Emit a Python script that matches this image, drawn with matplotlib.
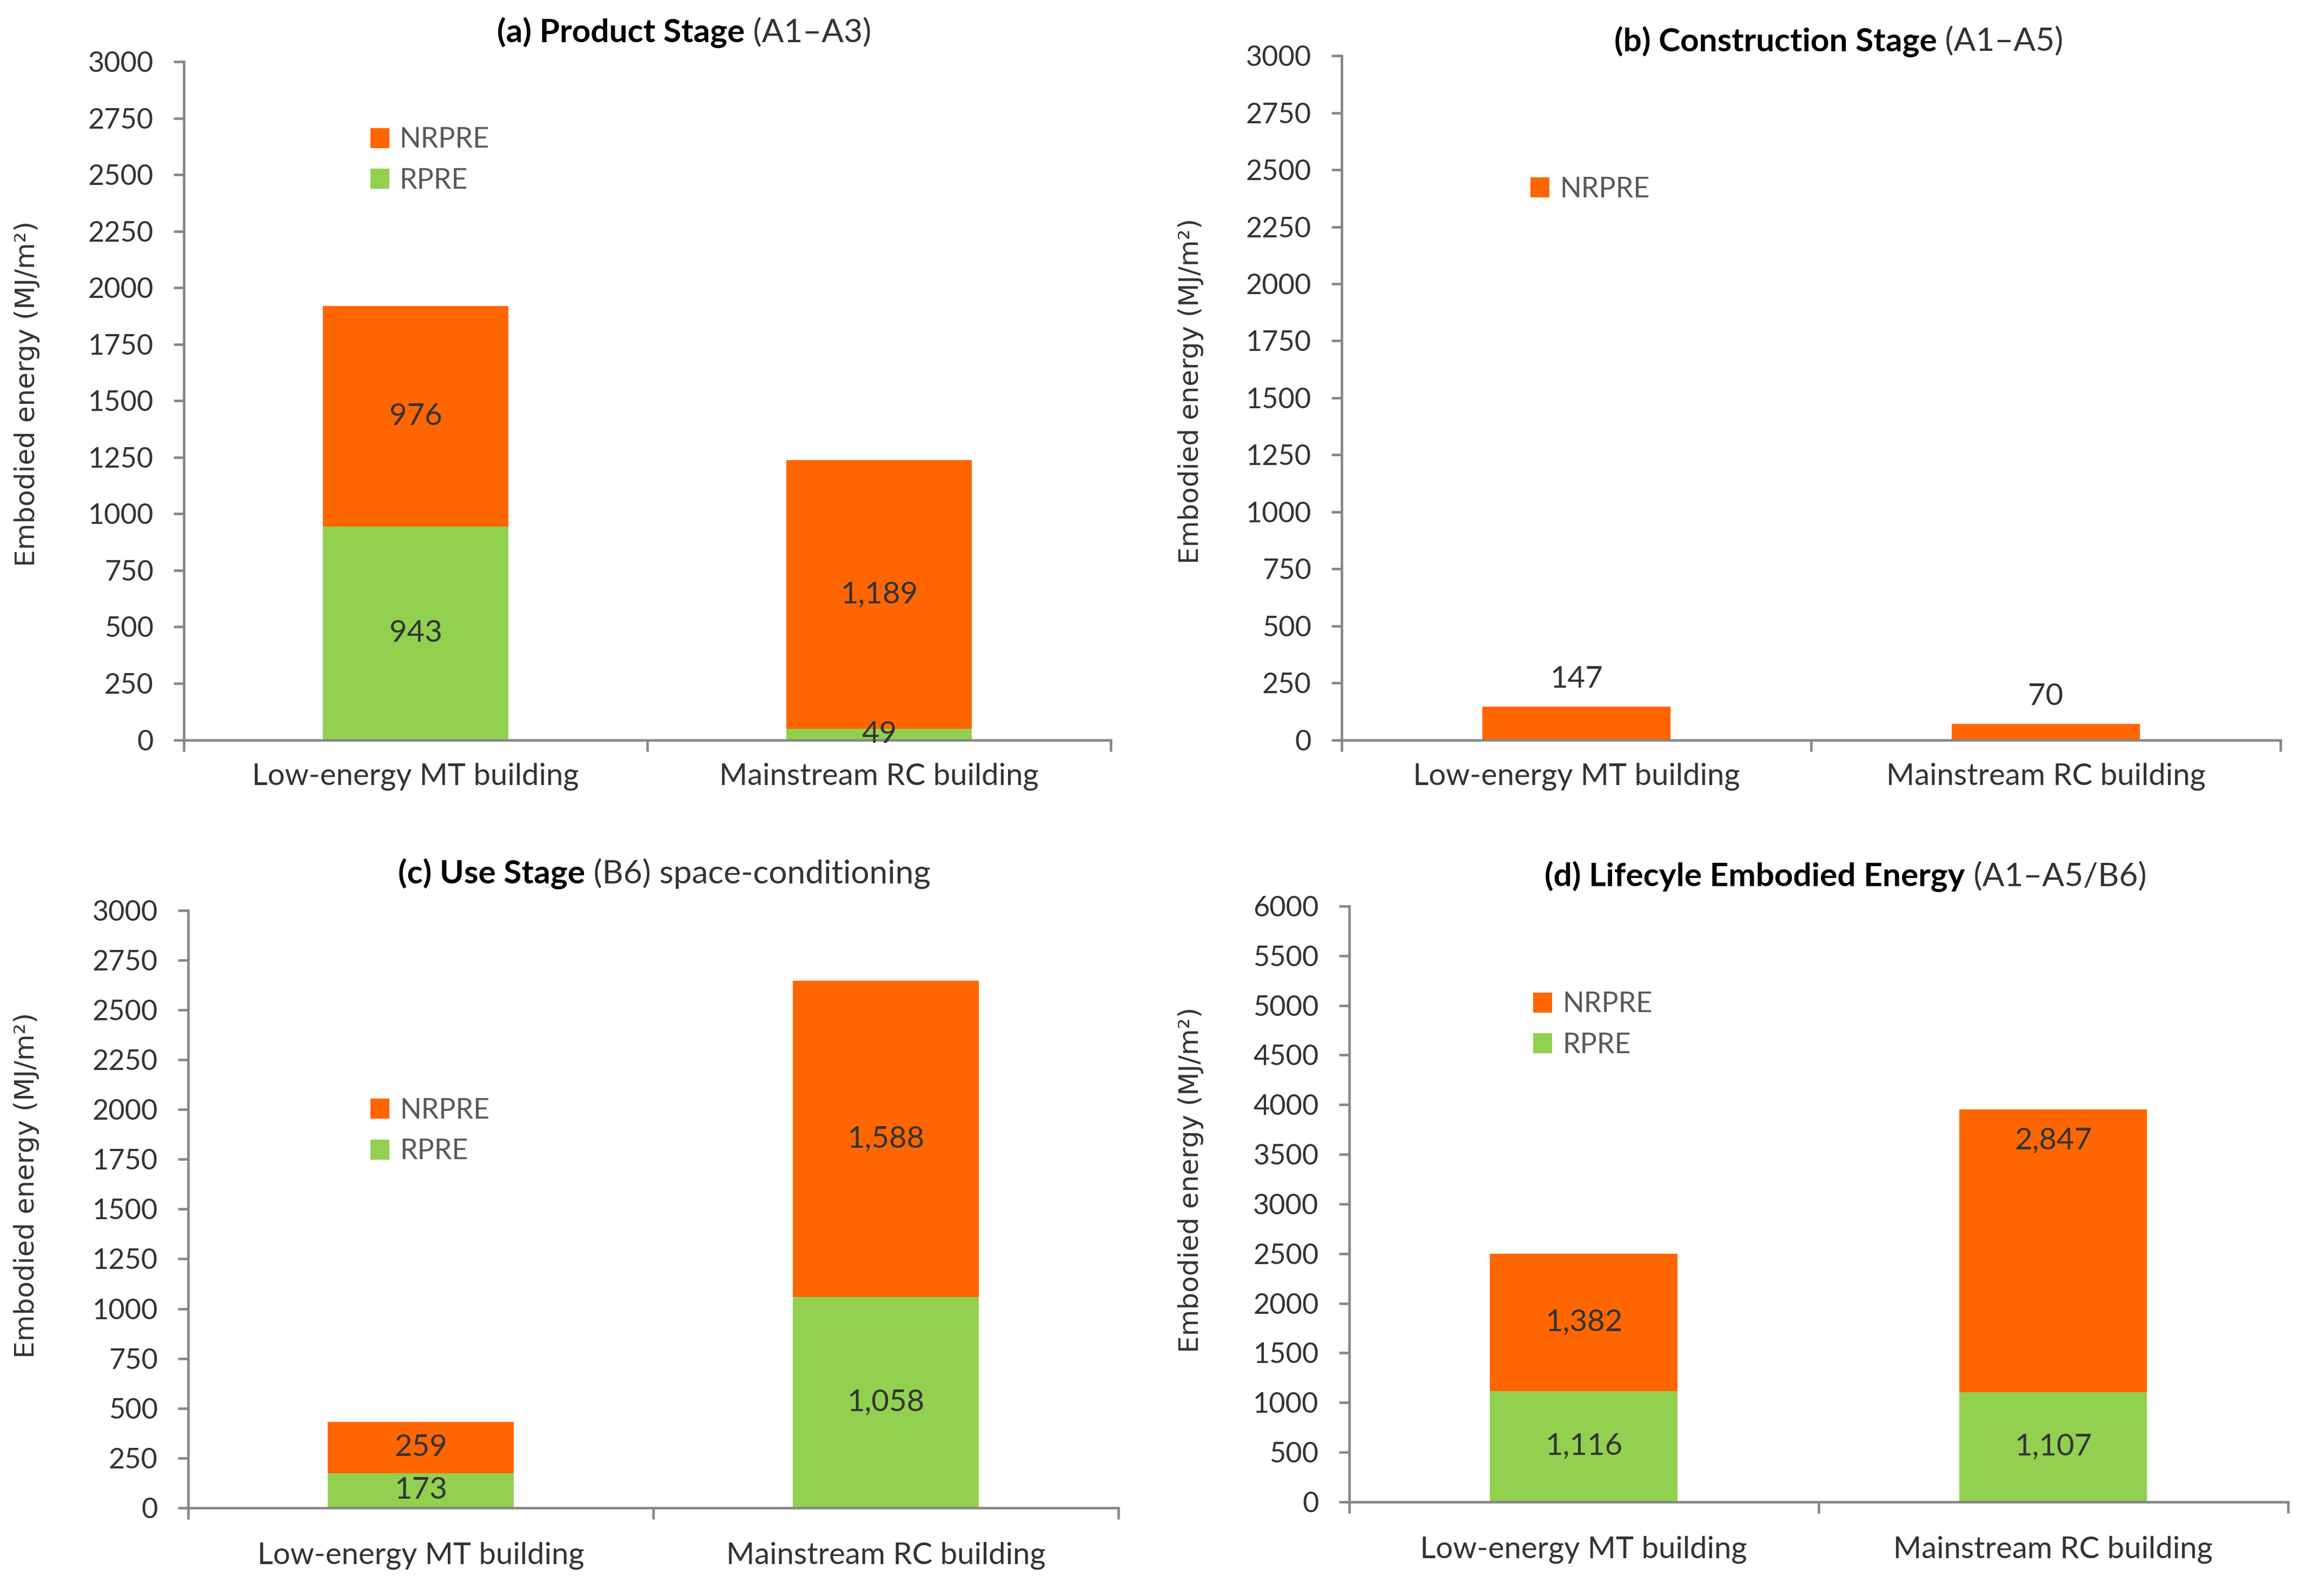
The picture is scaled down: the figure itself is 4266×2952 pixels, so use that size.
import matplotlib
matplotlib.use("Agg")
import matplotlib.pyplot as plt
from matplotlib.patches import Patch
import numpy as np

categories = ["Low-energy MT building", "Mainstream RC building"]
a_rpre = [943, 49]
a_nrpre = [976, 1189]
b_nrpre = [147, 70]
c_rpre = [173, 1058]
c_nrpre = [259, 1588]
d_rpre = [1116, 1107]
d_nrpre = [1382, 2847]

ORANGE = "#FF6600"
GREEN = "#92D050"
TXT = "#333333"
SPINE = "#868686"
FONT = ["Lato", "DejaVu Sans"]

plt.rcParams["font.family"] = FONT

fig = plt.figure(figsize=(4266 / 300, 2952 / 300), dpi=300)

specs = {
    "a": dict(rect=[0.0797, 0.5364, 0.4018, 0.4249], ymax=3000, step=250,
              title=("(a) Product Stage", " (A1\u2013A3)"), tpos=(0.2966, 0.9797),
              leg=(0.19, 0.92), xpad=10, ylc=(-0.155, 0.51), top_label=False),
    "b": dict(rect=[0.5816, 0.5364, 0.4069, 0.4286], ymax=3000, step=250,
              title=("(b) Construction Stage", " (A1\u2013A5)"), tpos=(0.797, 0.974),
              leg=(0.19, 0.84), xpad=10, ylc=(-0.147, 0.51), top_label=False),
    "c": dict(rect=[0.0816, 0.0553, 0.4031, 0.3742], ymax=3000, step=250,
              title=("(c) Use Stage", " (B6) space-conditioning"), tpos=(0.288, 0.4525),
              leg=(0.185, 0.705), xpad=15, ylc=(-0.16, 0.54), top_label=False),
    "d": dict(rect=[0.5848, 0.059, 0.4069, 0.3733], ymax=6000, step=500,
              title=("(d) Lifecyle Embodied Energy", " (A1\u2013A5/B6)"), tpos=(0.800, 0.4507),
              leg=(0.185, 0.875), xpad=15, ylc=(-0.155, 0.54), top_label=True),
}

data = {
    "a": (a_rpre, a_nrpre),
    "b": (None, b_nrpre),
    "c": (c_rpre, c_nrpre),
    "d": (d_rpre, d_nrpre),
}

x = np.arange(len(categories))
width = 0.4
LBL = 13.5

for key, sp in specs.items():
    ax = fig.add_axes(sp["rect"])
    rpre, nrpre = data[key]
    if rpre is not None:
        b1 = ax.bar(x, rpre, width, color=GREEN, label="RPRE")
        b2 = ax.bar(x, nrpre, width, bottom=rpre, color=ORANGE, label="NRPRE")
        ax.bar_label(b1, labels=[f"{v:,.0f}" for v in rpre], label_type="center",
                     color=TXT, fontsize=LBL)
        if sp["top_label"]:
            # second bar's NRPRE label sits near the top of its segment
            labels = [f"{v:,.0f}" for v in nrpre]
            ax.bar_label(b2, labels=[labels[0], ""], label_type="center",
                         color=TXT, fontsize=LBL)
            tot = rpre[1] + nrpre[1]
            ax.annotate(labels[1], (x[1], tot), xytext=(0, -14),
                        textcoords="offset points", ha="center", va="center",
                        color=TXT, fontsize=LBL)
        else:
            ax.bar_label(b2, labels=[f"{v:,.0f}" for v in nrpre], label_type="center",
                         color=TXT, fontsize=LBL)
        handles = [Patch(color=ORANGE, label="NRPRE"), Patch(color=GREEN, label="RPRE")]
    else:
        b2 = ax.bar(x, nrpre, width, color=ORANGE, label="NRPRE")
        ax.bar_label(b2, labels=[f"{v:,.0f}" for v in nrpre], label_type="edge",
                     color=TXT, fontsize=LBL, padding=6)
        handles = [Patch(color=ORANGE, label="NRPRE")]

    ax.set_xlim(-0.5, 1.5)
    ax.set_ylim(0, sp["ymax"])
    ax.set_yticks(np.arange(0, sp["ymax"] + 1, sp["step"]))
    for s in ["top", "right"]:
        ax.spines[s].set_visible(False)
    for s in ["left", "bottom"]:
        ax.spines[s].set_color(SPINE)
        ax.spines[s].set_linewidth(1.1)
    ax.tick_params(axis="y", colors=SPINE, labelcolor=TXT, labelsize=12.5,
                   length=4.5, width=1.1, direction="out", pad=9)
    ax.set_xticks(x)
    ax.set_xticklabels(categories)
    ax.tick_params(axis="x", which="major", length=0, labelsize=13.5,
                   labelcolor=TXT, pad=sp["xpad"])
    ax.set_xticks([-0.5, 0.5, 1.5], minor=True)
    ax.tick_params(axis="x", which="minor", length=5, width=1.1, colors=SPINE,
                   direction="out")
    ax.set_ylabel("Embodied energy (MJ/m\u00b2)", family="DejaVu Sans",
                  fontsize=12, color=TXT)
    ax.yaxis.set_label_coords(*sp["ylc"])

    ax.legend(handles=handles, loc="upper left", bbox_to_anchor=sp["leg"],
              frameon=False, fontsize=12.5, labelcolor="#595959",
              handlelength=0.6, handleheight=0.6, handletextpad=0.4,
              labelspacing=0.55, borderaxespad=0)

fig.canvas.draw()
renderer = fig.canvas.get_renderer()
W = fig.bbox.width
for sp in specs.values():
    bold, reg = sp["title"]
    xc, y = sp["tpos"]
    t1 = fig.text(0, y, bold, weight="bold", fontsize=14.5, color="black",
                  va="center", ha="left")
    t2 = fig.text(0, y, reg, fontsize=14.5, color=TXT, va="center", ha="left")
    w1 = t1.get_window_extent(renderer).width / W
    w2 = t2.get_window_extent(renderer).width / W
    x0 = xc - (w1 + w2) / 2
    t1.set_x(x0)
    t2.set_x(x0 + w1)

fig.savefig("out.png", dpi=300, facecolor="white")
